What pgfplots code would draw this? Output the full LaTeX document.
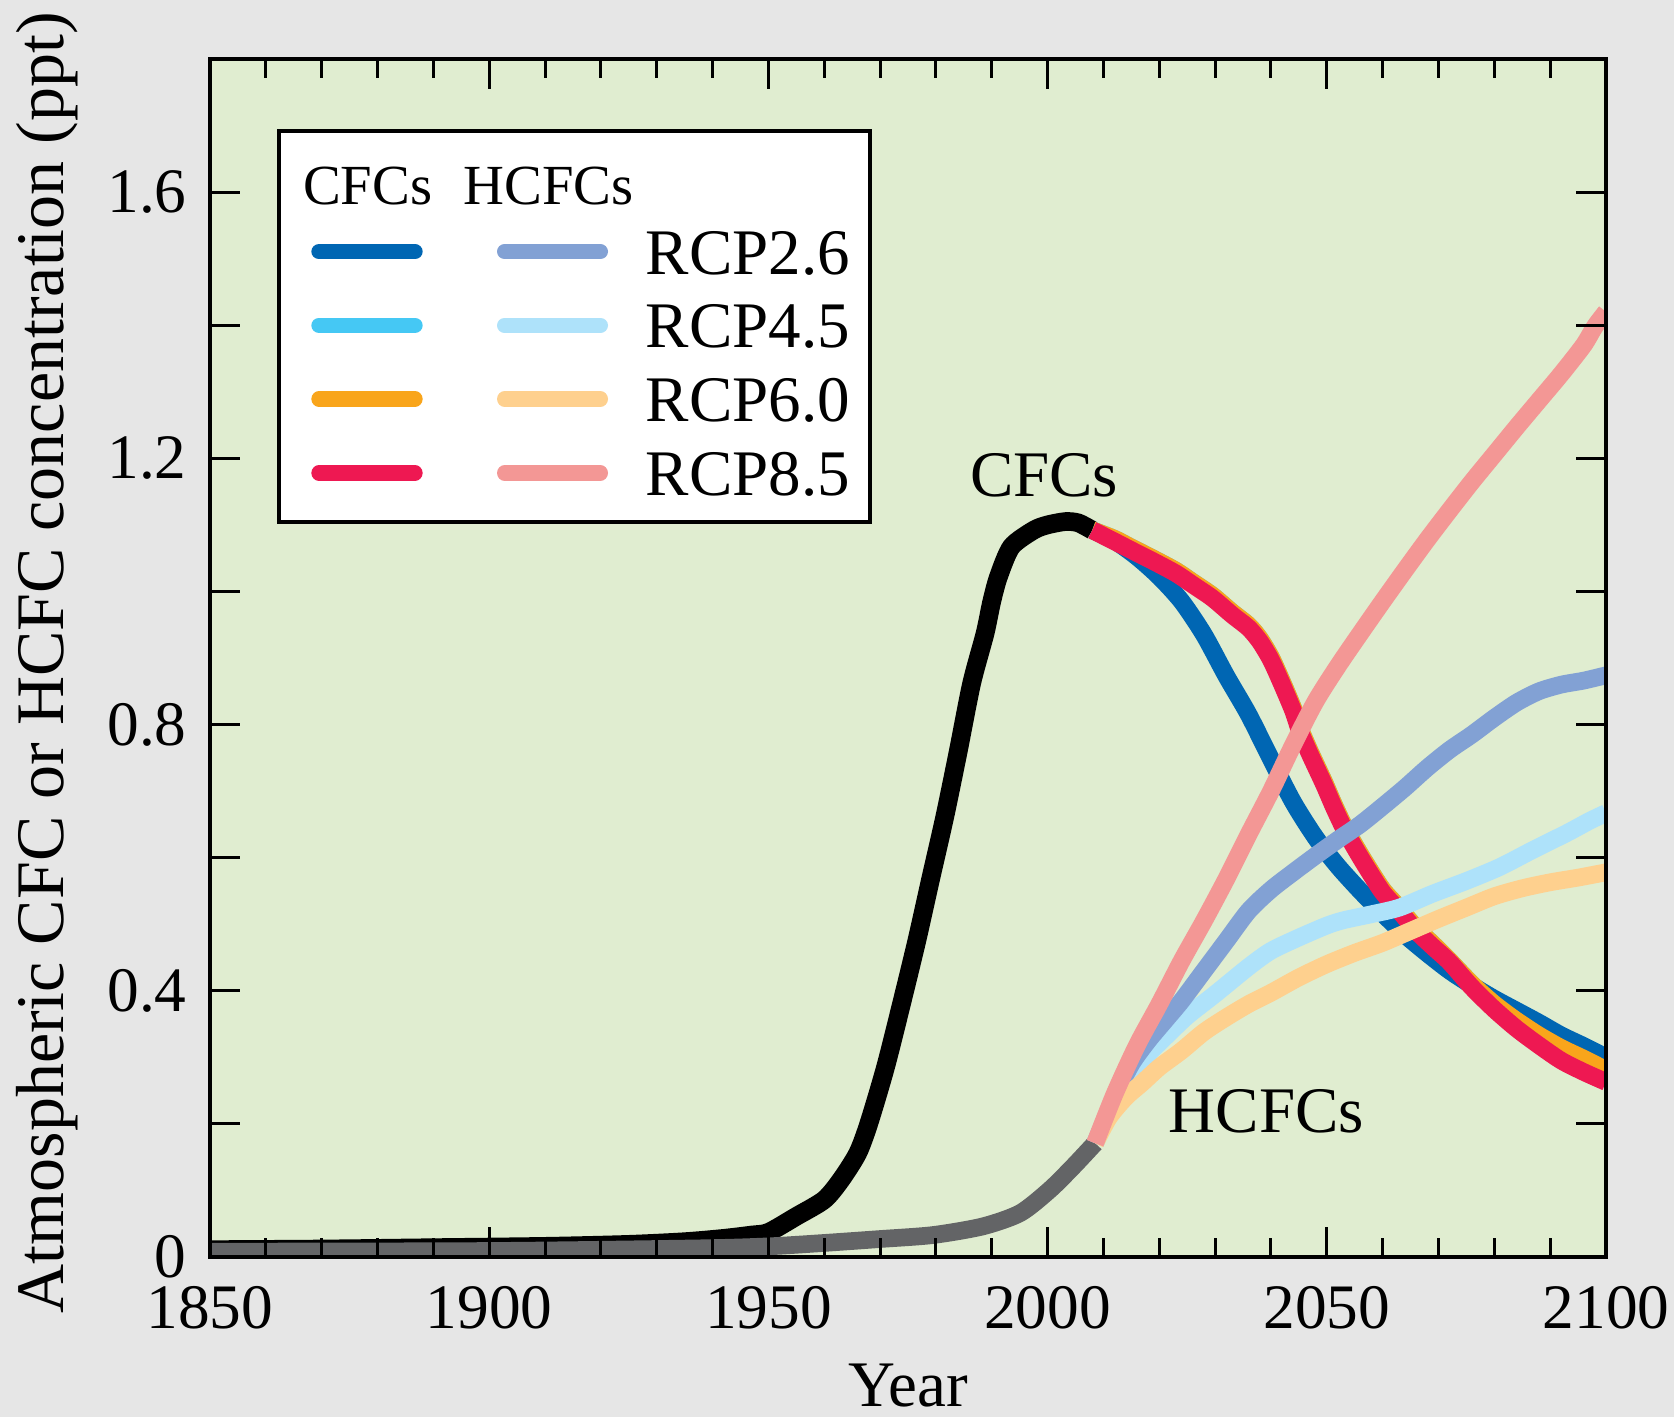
\documentclass[border=0pt]{standalone}
\usepackage{fontspec}
\setmainfont{Liberation Serif}
\usepackage{pgfplots}
\pgfplotsset{compat=1.18}
\definecolor{outerbg}{RGB}{230,230,230}
\definecolor{plotbg}{RGB}{224,237,208}
\definecolor{cfcA}{RGB}{0,102,179}
\definecolor{cfcB}{RGB}{69,200,244}
\definecolor{cfcC}{RGB}{249,165,27}
\definecolor{cfcD}{RGB}{238,24,82}
\definecolor{hcA}{RGB}{130,161,212}
\definecolor{hcB}{RGB}{174,226,250}
\definecolor{hcC}{RGB}{254,208,142}
\definecolor{hcD}{RGB}{243,151,149}
\definecolor{histgray}{RGB}{99,100,102}
\begin{document}
\begin{tikzpicture}
\path[use as bounding box, fill=outerbg] (-63pt,-48pt) rectangle (439.2pt,377.1pt);
\begin{axis}[at={(0,0)}, anchor=south west, scale only axis,
 width=418.8pt, height=359.4pt,
 xmin=1850, xmax=2100, ymin=0, ymax=1.8,
 axis background/.style={fill=plotbg},
 axis on top,
 axis line style={line width=1.1pt},
 tick style={line width=0.9pt, black},
 tick align=inside,
 major tick length=9pt, minor tick length=5.8pt,
 xtick={1850,1900,1950,2000,2050,2100},
 xticklabels={\mbox{1850},\mbox{1900},\mbox{1950},\mbox{2000},\mbox{2050},\mbox{2100}},
 minor xtick={1860,1870,...,2090},
 ytick={0,0.2,0.4,0.6,0.8,1.0,1.2,1.4,1.6},
 yticklabels={\mbox{0},,\mbox{0.4},,\mbox{0.8},,\mbox{1.2},,\mbox{1.6}},
 ticklabel style={font=\fontsize{19}{22}\selectfont, inner sep=0pt},
 xticklabel style={yshift=-8.7pt},
 yticklabel style={xshift=-6.8pt},
 every axis plot/.append style={line width=5.3pt, line join=round, smooth, tension=0.45},
]
% CFC historical
\addplot[black, line width=5.6pt] coordinates {
(1850,0.011) (1870,0.012) (1890,0.014) (1910,0.016) (1925,0.019) (1935,0.023)
(1942,0.028) (1947,0.033) (1950,0.037) (1955,0.061) (1960,0.086) (1963,0.116)
(1966,0.156) (1968,0.201) (1971,0.286) (1974,0.386) (1976.6,0.476) (1979,0.566)
(1981.6,0.662) (1984,0.76) (1986.4,0.862) (1988.8,0.937) (1990,0.985) (1991.2,1.022)
(1993.5,1.067) (1997.5,1.092) (2000,1.100) (2003.2,1.105) (2005.5,1.103) (2008,1.092)};
% HCFC historical
\addplot[histgray] coordinates {
(1850,0.008) (1900,0.009) (1937.7,0.013) (1950,0.016) (1959.8,0.021) (1970,0.027)
(1979.5,0.033) (1988.4,0.046) (1995.1,0.066) (2000.4,0.101) (2004.6,0.136) (2008.5,0.171)};
% CFC RCP4.5 (hidden)
\addplot[cfcB] coordinates {
(2008,1.092) (2012,1.079) (2015,1.066) (2019,1.049) (2023,1.031) (2026,1.014)
(2029.5,0.994) (2033,0.969) (2036,0.949) (2038,0.929) (2040,0.901) (2042,0.864)
(2044,0.824) (2045.2,0.794) (2047,0.759) (2049.5,0.714) (2051.2,0.681) (2053,0.649)
(2055,0.619) (2057,0.591) (2060,0.552) (2063,0.524) (2066,0.494) (2069,0.470)
(2072,0.445) (2076,0.41) (2080,0.38) (2084,0.355) (2088,0.333) (2092,0.314) (2096,0.298) (2100,0.281)};
% CFC RCP2.6
\addplot[cfcA] coordinates {
(2008,1.092) (2012,1.076) (2016,1.052) (2020,1.022) (2024,0.985) (2028,0.935)
(2032,0.873) (2036,0.815) (2040,0.748) (2044,0.683) (2048,0.630) (2052,0.587)
(2056,0.550) (2060,0.516) (2064,0.484) (2068,0.456) (2072,0.430) (2076,0.408)
(2080,0.388) (2084,0.370) (2088,0.352) (2092,0.333) (2096,0.317) (2100,0.300)};
% CFC RCP6.0
\addplot[cfcC] coordinates {
(2008,1.092) (2012,1.079) (2015,1.066) (2019,1.049) (2023,1.031) (2026,1.014)
(2029.5,0.994) (2033,0.969) (2036,0.949) (2038,0.929) (2040,0.901) (2042,0.864)
(2044,0.824) (2045.2,0.794) (2047,0.759) (2049.5,0.714) (2051.2,0.681) (2053,0.649)
(2055,0.619) (2057,0.591) (2060,0.552) (2063,0.524) (2066,0.494) (2069,0.470)
(2072,0.445) (2076,0.41) (2080,0.38) (2084,0.355) (2088,0.333) (2092,0.314) (2096,0.298) (2100,0.281)};
% CFC RCP8.5
\addplot[cfcD] coordinates {
(2008,1.092) (2012,1.075) (2015,1.062) (2019,1.045) (2023,1.027) (2026,1.010)
(2029.5,0.99) (2033,0.965) (2036,0.945) (2038,0.925) (2040,0.897) (2042,0.86)
(2044,0.82) (2045.2,0.79) (2047,0.755) (2049.5,0.71) (2051.2,0.677) (2053,0.645)
(2055,0.615) (2057,0.587) (2060,0.548) (2063,0.52) (2066,0.49) (2069,0.466)
(2072,0.443) (2076,0.405) (2080,0.372) (2084,0.343) (2088,0.318) (2092,0.295) (2096,0.278) (2100,0.263)};
% HCFC RCP4.5
\addplot[hcB] coordinates {
(2008.5,0.171) (2012,0.235) (2015,0.275) (2018,0.305) (2021,0.33) (2025,0.362)
(2030,0.395) (2036,0.436) (2040,0.46) (2045,0.48) (2050,0.498) (2053,0.506)
(2058,0.515) (2063,0.525) (2069,0.546) (2075,0.565) (2081,0.586) (2087,0.612)
(2093,0.637) (2097,0.655) (2100,0.667)};
% HCFC RCP2.6
\addplot[hcA] coordinates {
(2008.5,0.171) (2012,0.24) (2015,0.29) (2018,0.325) (2021,0.355) (2024,0.385)
(2028,0.43) (2032,0.475) (2036,0.52) (2040,0.552) (2044,0.578) (2048,0.603)
(2052,0.627) (2056,0.65) (2060,0.677) (2064,0.705) (2068,0.735) (2072,0.762)
(2076,0.785) (2080,0.81) (2084,0.833) (2088,0.85) (2092,0.86) (2096,0.866) (2100,0.874)};
% HCFC RCP6.0
\addplot[hcC] coordinates {
(2008.5,0.171) (2011,0.21) (2014,0.24) (2017,0.262) (2020,0.285) (2024,0.31)
(2028,0.338) (2032,0.36) (2036,0.38) (2040,0.397) (2045,0.42) (2050,0.44)
(2055,0.457) (2060,0.472) (2065,0.49) (2070,0.508) (2075,0.525) (2080,0.542)
(2085,0.554) (2090,0.563) (2095,0.57) (2100,0.578)};
% HCFC RCP8.5
\addplot[hcD] coordinates {
(2008.5,0.171) (2012,0.245) (2016,0.318) (2020,0.38) (2024,0.445) (2028,0.505)
(2032,0.568) (2036,0.635) (2040,0.70) (2044,0.77) (2048,0.835) (2052,0.888)
(2056,0.937) (2060,0.985) (2064,1.032) (2068,1.078) (2072,1.122) (2076,1.165)
(2080,1.206) (2084,1.247) (2088,1.287) (2092,1.327) (2096,1.37) (2098,1.398) (2100,1.42)};
\node[anchor=base west, font=\fontsize{19.5}{22}\selectfont] at (axis cs:1984,1.143) {CFCs};
\node[anchor=base west, font=\fontsize{19.5}{22}\selectfont] at (axis cs:2019.6,0.187) {HCFCs};
\end{axis}
% legend
\draw[line width=1.2pt, fill=white] (20.7pt,220.5pt) rectangle (198pt,337.8pt);
\node[anchor=base west, inner sep=0pt, font=\fontsize{17}{20}\selectfont] at (27.75pt,315.6pt) {CFCs};
\node[anchor=base west, inner sep=0pt, font=\fontsize{17}{20}\selectfont] at (75.9pt,315.6pt) {HCFCs};
\begin{scope}[line width=4.6pt, line cap=round]
\draw[cfcA] (32.7pt,301.6pt) -- (61.5pt,301.6pt);
\draw[cfcB] (32.7pt,279.5pt) -- (61.5pt,279.5pt);
\draw[cfcC] (32.7pt,257.4pt) -- (61.5pt,257.4pt);
\draw[cfcD] (32.7pt,235.2pt) -- (61.5pt,235.2pt);
\draw[hcA] (88.4pt,301.6pt) -- (117.1pt,301.6pt);
\draw[hcB] (88.4pt,279.5pt) -- (117.1pt,279.5pt);
\draw[hcC] (88.4pt,257.4pt) -- (117.1pt,257.4pt);
\draw[hcD] (88.4pt,235.2pt) -- (117.1pt,235.2pt);
\end{scope}
\begin{scope}[every node/.style={anchor=base west, inner sep=0pt, font=\fontsize{19.5}{22}\selectfont}]
\node at (130.5pt,294.6pt) {RCP2.6};
\node at (130.5pt,272.7pt) {RCP4.5};
\node at (130.5pt,250.5pt) {RCP6.0};
\node at (130.5pt,228.3pt) {RCP8.5};
\end{scope}
\node[rotate=90, anchor=base, font=\fontsize{20.4}{24}\selectfont] at (-44pt,178.3pt) {Atmospheric CFC or HCFC concentration (ppt)};
\node[anchor=base, font=\fontsize{19.5}{22}\selectfont] at (209.4pt,-44.8pt) {Year};
\end{tikzpicture}
\end{document}
